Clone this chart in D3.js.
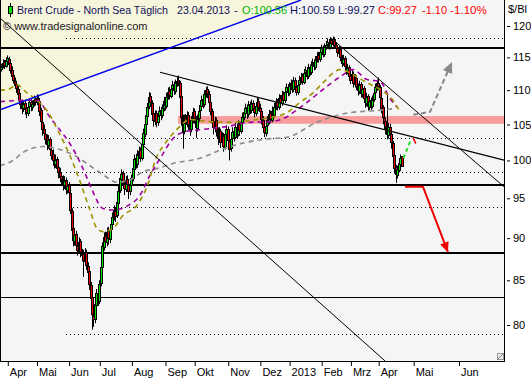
<!DOCTYPE html>
<html><head><meta charset="utf-8">
<script src="https://cdn.jsdelivr.net/npm/d3@7/dist/d3.min.js"></script>
<style>
body{margin:0;background:#fff}
svg{display:block}
text{font-family:"Liberation Sans",Arial,sans-serif}
</style>
</head><body>
<svg id="c" width="531" height="380"></svg>
<script>
// ---------------- DATA ----------------
const opens=[113.2,113.6,114.3,113.7,114.5,114.8,114.1,113.1,112.3,111.4,
110.9,110.2,109.6,108.5,108.1,107.3,108.1,107.3,106.7,107.6,
108.3,107.5,108.1,108.7,108.2,108.9,108.4,107.1,105.4,104.4,
103.7,103.1,102.1,102.9,101.4,100.9,100.1,99.5,100.2,99.1,
98.5,97.9,97.4,96.7,97.4,96.1,96.7,95.7,93.4,91.2,
89.7,90.5,89.1,88.5,89.6,88.2,88.1,87.3,88.3,86.7,
86.1,84.5,83.1,81.0,80.7,82.2,83.6,82.7,84.7,86.6,
88.9,90.3,89.5,90.9,89.9,91.1,91.7,92.7,93.4,92.9,
94.4,96.1,97.5,98.3,96.9,96.2,97.5,96.7,96.0,96.7,
97.7,98.9,100.3,99.5,100.9,101.4,100.4,102.3,103.7,105.1,
106.2,107.6,109.1,108.1,106.6,105.5,106.6,105.3,106.3,107.1,
106.3,107.4,108.5,107.7,109.1,109.9,109.2,110.3,110.9,109.9,
111.1,111.5,111.1,109.1,105.9,104.1,105.9,105.1,106.4,104.9,
104.3,105.7,106.9,105.8,104.5,105.9,107.1,107.7,108.7,107.9,
109.5,110.1,109.5,108.3,106.9,105.5,104.5,105.6,104.1,103.1,
104.1,102.5,103.4,101.9,103.7,104.4,102.7,101.7,103.1,104.1,
103.3,104.7,103.7,105.1,104.1,105.4,106.1,106.7,107.5,106.5,
107.9,107.1,108.1,107.3,106.7,107.7,108.4,107.4,107.0,105.7,
104.7,103.8,104.9,105.5,106.6,105.7,107.1,106.3,107.6,108.3,
107.5,108.9,108.1,109.4,108.5,109.9,110.5,109.6,110.7,111.1,
110.1,111.5,110.5,109.7,110.9,111.5,112.1,111.3,112.7,113.1,
112.1,113.5,112.7,113.9,114.3,113.5,114.7,115.3,114.7,115.9,
116.5,115.5,116.7,117.1,117.5,116.7,117.7,117.1,117.9,116.9,
116.5,115.7,116.3,114.9,114.1,114.9,113.5,112.9,113.5,112.1,
111.5,112.5,110.9,111.9,110.5,109.9,110.9,109.5,110.3,108.7,
108.1,109.1,107.5,108.5,107.7,108.7,109.7,110.3,111.1,110.5,
108.9,107.5,105.9,105.5,104.7,103.5,104.7,103.7,102.4,100.7,
99.1,98.1,98.7,99.5,100.56];
const highs=[114.0,114.7,114.6,115.0,115.3,115.1,114.4,113.6,112.8,111.9,
111.4,110.6,110.0,109.2,108.6,108.5,108.6,107.9,108.0,108.8,
108.7,108.5,109.2,109.1,109.4,109.3,108.7,107.4,105.9,105.0,
104.3,103.6,103.5,103.2,102.0,101.5,100.7,100.8,100.5,99.6,
99.0,98.4,98.0,97.9,97.7,97.2,97.1,96.0,93.7,91.6,
91.0,90.9,89.6,90.1,89.9,88.7,88.6,88.8,88.6,87.1,
86.4,84.8,83.5,81.9,82.8,84.0,84.2,85.0,87.0,89.5,
90.7,90.8,91.3,91.4,91.6,92.4,93.2,94.1,93.9,95.0,
96.6,98.2,98.8,98.6,97.5,97.9,98.0,97.2,97.4,98.1,
99.5,100.8,100.9,101.4,101.9,101.8,102.7,104.4,105.6,106.9,
108.1,109.7,109.6,108.5,107.1,107.0,107.0,106.8,107.6,107.5,
107.9,109.0,109.0,109.6,110.4,110.5,110.8,111.4,111.3,111.6,
112.0,112.2,111.4,109.4,106.4,106.4,106.5,106.9,106.8,105.5,
106.2,107.4,107.3,106.2,106.4,107.6,108.4,109.2,109.1,110.0,
110.5,110.6,109.9,108.7,107.3,106.0,106.1,106.0,104.6,104.6,
104.4,103.9,103.8,104.2,104.9,104.7,103.1,103.6,104.6,104.6,
105.2,105.1,105.6,105.5,105.9,106.7,107.4,108.0,107.9,108.4,
108.3,108.6,108.5,107.9,108.2,109.0,108.8,108.0,107.4,106.2,
105.2,105.4,106.2,107.1,107.0,107.6,107.5,108.1,108.8,108.7,
109.4,109.3,109.9,109.8,110.4,111.0,110.9,111.2,111.6,111.5,
112.0,111.9,111.0,111.4,112.2,112.6,112.5,113.2,113.6,113.5,
114.0,113.9,114.4,114.8,114.7,115.2,115.8,115.9,116.4,117.0,
116.9,117.2,117.6,118.0,117.9,118.1,118.0,118.3,118.2,117.4,
116.9,116.8,116.6,115.4,115.4,115.2,114.0,114.0,113.8,112.6,
113.0,112.8,112.4,112.2,111.0,111.4,111.2,110.8,110.6,109.2,
109.6,109.4,109.0,108.9,109.2,110.2,111.0,111.6,111.9,110.8,
109.2,107.8,106.4,106.0,109.5,105.2,105.1,104.0,102.7,101.0,
99.4,99.3,100.0,100.8,100.59];
const lows=[112.8,113.3,113.2,113.4,114.0,113.5,112.5,111.7,111.0,110.2,
109.6,108.9,108.0,107.2,106.5,106.8,106.4,105.9,106.2,107.1,
106.9,107.0,107.6,107.7,107.8,107.9,106.2,104.6,103.4,103.0,
102.2,101.4,101.6,100.9,100.1,99.3,98.9,99.0,98.3,97.6,
97.1,96.8,96.0,96.2,95.5,95.6,95.2,93.0,90.4,89.0,
89.1,88.6,87.9,88.2,87.7,87.2,85.4,86.9,86.2,85.2,
83.9,82.2,79.5,79.8,80.2,81.8,82.1,82.3,84.3,86.2,
88.5,88.8,89.0,89.2,89.4,90.6,91.2,92.2,92.0,92.5,
94.0,95.7,97.0,96.2,95.4,95.8,96.0,94.9,95.4,96.2,
97.2,98.4,98.9,99.0,100.2,99.8,100.0,101.9,103.2,104.6,
105.8,107.2,107.5,105.8,104.7,104.9,104.6,104.8,105.7,105.6,
105.9,106.9,107.0,107.3,108.6,108.6,108.8,109.8,109.3,109.4,
110.5,110.6,108.3,104.8,101.6,103.6,104.3,104.6,104.2,103.4,
103.9,105.2,105.1,103.1,104.0,105.4,106.6,107.2,107.3,107.5,
108.9,108.8,107.4,106.3,104.5,103.6,103.9,103.3,102.1,102.6,
101.7,102.0,101.2,101.5,103.0,102.0,100.0,101.2,102.6,102.6,
102.9,103.0,103.3,103.4,103.7,104.9,105.6,106.1,105.8,106.0,
106.5,106.6,106.8,106.0,106.2,107.2,106.9,106.2,105.0,103.8,
103.2,103.3,104.4,105.0,105.2,105.3,105.8,106.0,107.1,107.0,
107.1,107.6,107.7,108.0,108.1,109.4,109.1,109.2,110.1,109.6,
109.7,110.0,109.2,109.3,110.4,111.0,110.8,110.9,112.2,111.6,
111.7,112.2,112.3,113.4,113.0,113.1,114.2,114.2,114.3,115.4,
115.0,115.1,116.2,116.6,116.2,116.3,116.6,116.7,116.4,115.7,
115.1,115.2,114.4,113.5,113.7,113.0,112.3,112.4,111.6,110.9,
111.0,110.4,110.4,110.0,109.2,109.4,108.9,108.9,108.1,107.4,
107.6,107.0,107.1,107.1,107.3,108.3,109.3,109.9,110.0,108.4,
106.6,105.0,104.3,103.6,102.9,103.0,103.0,101.6,99.8,98.2,
97.0,97.6,98.4,99.2,99.27];
const closes=[113.5,114.2,113.8,114.6,114.9,114.0,113.0,112.2,111.5,110.8,
110.3,109.5,108.6,108.0,107.4,108.0,107.2,106.8,107.5,108.2,
107.6,108.0,108.6,108.3,108.9,108.5,107.0,105.5,104.3,103.8,
103.0,102.2,102.8,101.5,100.8,100.0,99.6,100.1,99.0,98.4,
97.8,97.5,96.8,97.3,96.2,96.6,95.8,93.5,91.0,89.8,
90.4,89.2,88.6,89.5,88.3,88.0,87.4,88.2,86.8,86.0,
84.6,83.0,81.2,80.6,82.3,83.5,82.8,84.6,86.5,89.0,
90.2,89.6,90.8,90.0,91.0,91.8,92.6,93.5,92.8,94.5,
96.0,97.6,98.2,97.0,96.3,97.4,96.8,95.9,96.8,97.6,
99.0,100.2,99.6,100.8,101.3,100.5,102.2,103.8,105.0,106.3,
107.5,109.0,108.2,106.5,105.6,106.5,105.4,106.2,107.0,106.4,
107.3,108.4,107.8,109.0,109.8,109.3,110.2,110.8,110.0,111.0,
111.4,111.2,109.0,106.0,104.0,105.8,105.2,106.3,105.0,104.4,
105.6,106.8,105.9,104.6,105.8,107.0,107.8,108.6,108.0,109.4,
110.0,109.6,108.2,107.0,105.4,104.6,105.5,104.2,103.2,104.0,
102.6,103.3,102.0,103.6,104.3,102.8,101.6,103.0,104.0,103.4,
104.6,103.8,105.0,104.2,105.3,106.0,106.8,107.4,106.6,107.8,
107.2,108.0,107.4,106.8,107.6,108.3,107.5,106.9,105.8,104.6,
103.9,104.8,105.6,106.5,105.8,107.0,106.4,107.5,108.2,107.6,
108.8,108.2,109.3,108.6,109.8,110.4,109.7,110.6,111.0,110.2,
111.4,110.6,109.8,110.8,111.6,112.0,111.4,112.6,113.0,112.2,
113.4,112.8,113.8,114.2,113.6,114.6,115.2,114.8,115.8,116.4,
115.6,116.6,117.0,117.4,116.8,117.6,117.2,117.8,117.0,116.4,
115.8,116.2,115.0,114.2,114.8,113.6,113.0,113.4,112.2,111.6,
112.4,111.0,111.8,110.6,110.0,110.8,109.6,110.2,108.8,108.2,
109.0,107.6,108.4,107.8,108.6,109.6,110.4,111.0,110.6,109.0,
107.4,106.0,105.4,104.8,103.6,104.6,103.8,102.5,100.6,99.0,
98.2,98.8,99.6,100.4,99.27];

// moving averages: [bar index, price]
const maFast=[[-1,110.0],[4.5,110.1],[10.6,110.8],[17.5,109.6],[24.3,108.5],[31.2,107.0],[40,103.6],[47,100.6],[53.8,97.2],[60.6,93.5],[65.4,91.2],[69.5,90.8],[76.4,91.2],[83.2,92.8],[92.8,94.1],[99.7,96.5],[106.5,100.6],[110.6,101.9],[120.2,104.3],[129.1,105.7],[142.8,105.4],[156.5,105.3],[175,105.7],[184,106.0],[195.6,106.7],[204.5,108.2],[213.4,109.6],[220.2,111.1],[231.9,113.1],[243.5,112.0],[250.4,111.1],[259.3,110.1],[268.2,108.5],[273,106.8]];
const maMid=[[-1,108.3],[19.5,108.5],[24.3,108.5],[33,106.1],[51.7,100.6],[57.2,98.3],[62,96.1],[69.5,93.7],[76.4,93.5],[86,94.0],[94.9,95.4],[101.7,98.0],[110.6,100.9],[115.4,102.5],[124.3,103.9],[138,104.3],[154.5,104.7],[170,105.3],[184,105.4],[195.6,106.1],[199.7,106.7],[209.3,108.2],[220.2,110.1],[231.9,112.0],[240.8,113.1],[250.4,111.6],[259.3,111.3],[266,108.8],[271,107.5]];
const maSlow=[[-1,99.3],[7.9,100.0],[14.8,101.1],[28.5,101.9],[40,101.5],[49,100.8],[62.7,99.0],[69.5,98.1],[79,97.1],[88,97.4],[97,98.5],[106.5,98.9],[117.5,99.6],[134,100.2],[156.5,101.9],[179,102.9],[195.6,103.2],[216,105.3],[238.7,106.7],[257,107.0],[269.5,107.3]];

// horizontal levels
const thickLevels=[116.5,96.7,88.2];
const thinLevels=[83.1];
const dottedLevels=[118.1,103.1,98.4,93.9,79.0];
const dottedStart=[44,46,44,49,44];
const band=[105.1,106.2];
const bandStart=121;

// trendlines: [bar index, price]
const blueLine=[[-1,107.1],[205.2,124.3]];
const longLine=[[-1,121.3],[262.7,76.2]];
const sepLine=[[108.6,112.7],[344.2,100.05]];
const febLine=[[225,118.2],[344.2,96.5]];
const creamArea=[[-1,107.1],[205.2,124.3],[-1,124.3]];

// projections
const greyArrow=[[282,106.4],[293.5,106.8],[308.6,114.3]];
const redArrow=[[276.4,96.5],[288.7,96.5],[305.8,88.3]];
const greenProj=[[275.3,100.3],[280.5,102.9]];
const redProj=[[282,103.1],[283.8,102.3]];

// axes
const monthTicks=[4,24,46,67,89,112,132,155,177,197,219,239,258,282,313];
const monthLabels=["Apr","Mai","Jun","Jul","Aug","Sep","Okt","Nov","Dez","2013","Feb","Mrz","Apr","Mai","Jun"];
const priceTicks=[80,85,90,95,100,105,110,115,120];

// header pieces: [text, colour]
const headerParts=[["Brent Crude - North Sea Täglich","#10105a"],["23.04.2013","#10105a"],["-","#10105a"],
  ["O:100.56","#00b400"],["H:100.59","#10105a"],["L:99.27","#10105a"],
  ["C:99.27","#ff0000"],["-1.10","#ff0000"],["-1.10%","#ff0000"]];

// ---------------- DRAW ----------------
const W=504,H=361;
const svg=d3.select("#c");
const x=d3.scaleLinear().domain([-1,344.2]).range([0,W]);
const y=d3.scaleLog().domain([80,120]).range([325,26]);
const line=d3.line().x(d=>x(d[0])).y(d=>y(d[1]));

svg.append("defs").append("clipPath").attr("id","pc")
  .append("rect").attr("width",W).attr("height",H);
const g=svg.append("g").attr("clip-path","url(#pc)");

g.append("rect").attr("width",W).attr("height",H).attr("fill","#f5f5f5");
g.append("path").attr("d",line(creamArea)+"Z").attr("fill","#f7f5dc");

// band
g.append("rect").attr("x",x(bandStart)).attr("width",W-x(bandStart))
  .attr("y",y(band[1])).attr("height",y(band[0])-y(band[1])).attr("fill","#f79b9b");

// levels
thickLevels.forEach(v=>{const yy=Math.round(y(v));
  g.append("line").attr("x1",0).attr("x2",W).attr("y1",yy).attr("y2",yy).attr("stroke","#000").attr("stroke-width",2);});
thinLevels.forEach(v=>{const yy=Math.round(y(v))+0.5;
  g.append("line").attr("x1",0).attr("x2",W).attr("y1",yy).attr("y2",yy).attr("stroke","#000").attr("stroke-width",1);});
dottedLevels.forEach((v,k)=>{const yy=Math.round(y(v))+0.5;
  g.append("line").attr("x1",Math.round(x(dottedStart[k]))).attr("x2",W).attr("y1",yy).attr("y2",yy)
   .attr("stroke","#000").attr("stroke-width",1).attr("stroke-dasharray","1,3");});

// candles
const cg=g.append("g");
closes.forEach((c,i)=>{
  const o=opens[i],h=highs[i],l=lows[i];
  const r=Math.round(x(i));
  cg.append("line").attr("x1",r+0.5).attr("x2",r+0.5).attr("y1",y(h)).attr("y2",y(l))
    .attr("stroke","#000").attr("stroke-width",1);
  const t=Math.round(y(Math.max(o,c))), b=Math.round(y(Math.min(o,c)));
  cg.append("rect").attr("x",r-0.5).attr("width",2).attr("y",t+0.5).attr("height",Math.max(1,b-t))
    .attr("fill",c>=o?"#00e600":"#ee0000").attr("stroke","#000").attr("stroke-width",1);
});

// moving averages
const curve=d3.line().x(d=>x(d[0])).y(d=>y(d[1])).curve(d3.curveMonotoneX);
[[maSlow,"#8c8c8c"],[maMid,"#a000a0"],[maFast,"#9c9400"]].forEach(([d,col])=>{
  g.append("path").attr("d",curve(d)).attr("fill","none").attr("stroke",col)
   .attr("stroke-width",1.6).attr("stroke-dasharray","5,4");
});

// trendlines
g.append("path").attr("d",line(blueLine)).attr("stroke","#0000ee").attr("stroke-width",1.5).attr("fill","none");
g.append("path").attr("d",line(longLine)).attr("stroke","#000").attr("stroke-width",1).attr("fill","none");
g.append("path").attr("d",line(sepLine)).attr("stroke","#000").attr("stroke-width",1.2).attr("fill","none");
g.append("path").attr("d",line(febLine)).attr("stroke","#000").attr("stroke-width",1).attr("fill","none");

// projections
function arrowHead(pts,col,len,half){
  const a=pts[pts.length-2],b=pts[pts.length-1];
  const x1=x(a[0]),y1=y(a[1]),x2=x(b[0]),y2=y(b[1]);
  const dx=x2-x1,dy=y2-y1,L=Math.hypot(dx,dy),ux=dx/L,uy=dy/L;
  const bx=x2-ux*len,by=y2-uy*len;
  g.append("path").attr("d",`M${x2},${y2}L${bx-uy*half},${by+ux*half}L${bx+uy*half},${by-ux*half}Z`).attr("fill",col);
}
g.append("path").attr("d",line(greyArrow)).attr("fill","none").attr("stroke","#888")
  .attr("stroke-width",2).attr("stroke-dasharray","5,3");
arrowHead(greyArrow,"#888",11,5);
g.append("path").attr("d",line(redArrow)).attr("fill","none").attr("stroke","#ee0000").attr("stroke-width",2);
arrowHead(redArrow,"#ee0000",10,4.5);
g.append("path").attr("d",line(greenProj)).attr("fill","none").attr("stroke","#22dd22")
  .attr("stroke-width",2).attr("stroke-dasharray","4,3");
g.append("path").attr("d",line(redProj)).attr("fill","none").attr("stroke","#ee0000").attr("stroke-width",1.5);

// resize grip
g.append("rect").attr("x",497.5).attr("y",353.5).attr("width",6).attr("height",6).attr("fill","#eee").attr("stroke","#999");
g.append("line").attr("x1",498).attr("y1",359).attr("x2",503).attr("y2",354).attr("stroke","#777");

// frame
svg.append("line").attr("x1",0.5).attr("x2",0.5).attr("y1",0).attr("y2",H).attr("stroke","#000");
svg.append("line").attr("x1",W+0.5).attr("x2",W+0.5).attr("y1",0).attr("y2",H+1).attr("stroke","#000");
svg.append("line").attr("x1",0).attr("x2",W+1).attr("y1",H+0.5).attr("y2",H+0.5).attr("stroke","#000");

// axes
const ya=svg.append("g").attr("transform",`translate(${W+3},0)`)
  .call(d3.axisRight(y).tickValues(priceTicks).tickFormat(d3.format("d")).tickSize(3).tickPadding(3));
ya.select(".domain").remove();
ya.selectAll("text").attr("font-size",11).attr("fill","#000").style("font-family","'Liberation Sans',Arial,sans-serif");
ya.selectAll("line").attr("stroke","#000");

const xa=svg.append("g").attr("transform",`translate(0,${H+1})`)
  .call(d3.axisBottom(x).tickValues(monthTicks).tickFormat((d,k)=>monthLabels[k]).tickSize(4));
xa.select(".domain").remove();
xa.selectAll(".tick line").attr("stroke","#000").attr("transform","translate(0.5,0)");
xa.selectAll("text").attr("x",2).attr("y",6).attr("dy","0.71em").style("text-anchor","start")
  .attr("font-size",11).attr("fill","#000").style("font-family","'Liberation Sans',Arial,sans-serif");

svg.append("text").attr("x",508).attr("y",13).attr("font-size",11).attr("fill","#000").text("$/Bl");

// header
const hd=svg.append("g").attr("font-size",11);
hd.append("line").attr("x1",10.5).attr("x2",10.5).attr("y1",3).attr("y2",17).attr("stroke","#000");
hd.append("rect").attr("x",8.5).attr("y",6.5).attr("width",4).attr("height",7).attr("fill","#00e600").attr("stroke","#000");
const hx=[17,177,234,242,290,338,378,422,450];
const hw=[151,53,4,45,45,37,39,25,37];
headerParts.forEach(([t,col],k)=>{
  const el=hd.append("text").attr("x",hx[k]).attr("y",14).attr("fill",col).text(t);
  if(hw[k]>5) el.attr("textLength",hw[k]).attr("lengthAdjust","spacingAndGlyphs");
});
hd.append("text").attr("x",3).attr("y",30).attr("fill","#222").text("© www.tradesignalonline.com");
</script>
</body></html>
